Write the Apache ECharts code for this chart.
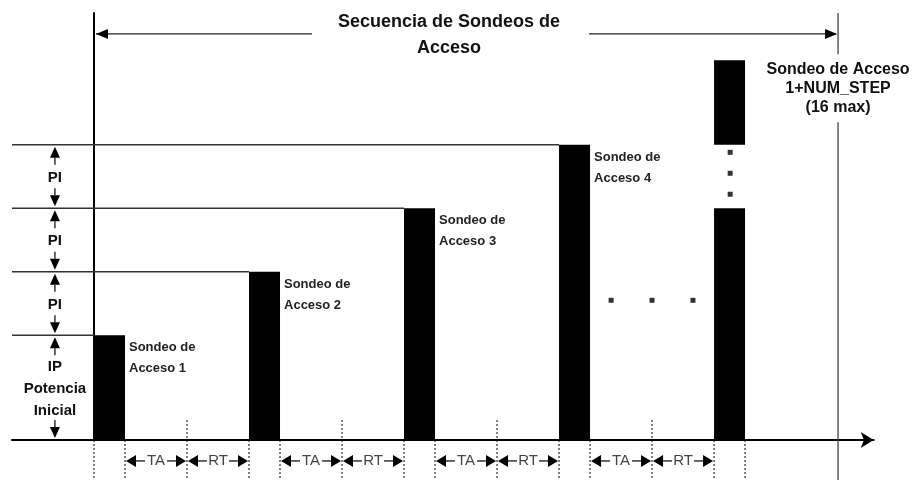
<!DOCTYPE html>
<html><head><meta charset="utf-8">
<script src="https://cdn.jsdelivr.net/npm/echarts@6/dist/echarts.min.js"></script>
<style>html,body{margin:0;padding:0;background:#fff}#c{width:916px;height:480px}</style>
</head><body><div id="c"></div>
<script>
// ---- data: time in slots (probe = 1 slot, TA = 2, RT = 2); power in PI steps ----
const probeStart = [0, 5, 10, 15, 20];
const probePower = [1.65, 2.65, 3.65, 4.65, 5.98];
const lastProbeBreak = [3.65, 4.65];
const probeDuration = 1;
const probeNames = ['Sondeo de\nAcceso 1', 'Sondeo de\nAcceso 2', 'Sondeo de\nAcceso 3', 'Sondeo de\nAcceso 4'];
const lastProbeName = ['Sondeo de Acceso', '1+NUM_STEP', '(16 max)'];
const stepBounds = [0, 1.65, 2.65, 3.65, 4.65];
const stepLabels = ['IP\nPotencia\nInicial', 'PI', 'PI', 'PI'];
const timingLabels = ['TA', 'RT'];
const timingDurations = [2, 2];
const sequenceEnd = 24;
const titleLines = ['Secuencia de Sondeos de', 'Acceso'];
const hEllipsisX = [16.68, 18.0, 19.32];
const hEllipsisY = [2.2, 2.2, 2.2];
const vEllipsisX = [20.52, 20.52, 20.52];
const vEllipsisY = [4.53, 4.2, 3.87];

// ---- axis extents / layout helpers ----
const X_MIN = -2.645, X_MAX = 25.15, Y_MIN = 0, Y_MAX = 6.724;
const ANN_X = -1.26;          // left step annotation column
const BOTTOM_Y = -0.63;       // bottom of dashed guides
const TIMING_Y = -0.33;       // TA/RT row
const MID_GUIDE_TOP = 0.315;  // top of the mid dashed guides
const SPAN_Y = 6.394;         // top sequence arrow row
const TITLE_GAP = [7.03, 15.97];
const TITLE_X = 11.45;

const FONT = "'Liberation Sans Narrow','Liberation Sans',Arial,sans-serif";

function tri(tx, ty, dir, len, half) {
  let pts;
  if (dir === 'left') pts = [[tx, ty], [tx + len, ty - half], [tx + len, ty + half]];
  else if (dir === 'right') pts = [[tx, ty], [tx - len, ty - half], [tx - len, ty + half]];
  else if (dir === 'up') pts = [[tx, ty], [tx - half, ty + len], [tx + half, ty + len]];
  else pts = [[tx, ty], [tx - half, ty - len], [tx + half, ty - len]];
  return { type: 'polygon', shape: { points: pts }, style: { fill: '#000' } };
}
function seg(x1, y1, x2, y2, stroke, w, dash) {
  return { type: 'line', shape: { x1, y1, x2, y2 }, style: { stroke, lineWidth: w, lineDash: dash || null } };
}
function txt(x, y, text, size, weight, fill, align, valign, lh) {
  return { type: 'text', style: { x, y, text, fill: fill || '#000', font: `${weight} ${size}px ${FONT}`, align: align || 'center', verticalAlign: valign || 'middle', textAlign: align || 'center', textVerticalAlign: valign || 'middle', lineHeight: lh || size + 4 } };
}

// bar segments
const barData = [];
probeStart.forEach((s, i) => {
  if (i === probeStart.length - 1) {
    barData.push([s, 0, lastProbeBreak[0]]);
    barData.push([s, lastProbeBreak[1], probePower[i]]);
  } else barData.push([s, 0, probePower[i]]);
});
// level lines
const levelData = probeStart.slice(0, 4).map((s, i) => [s, probePower[i], i]);
// step annotation
const stepData = stepLabels.map((l, i) => [ANN_X, stepBounds[i], stepBounds[i + 1], i]);
// dashed guides
const guideData = [];
probeStart.forEach((s, i) => {
  guideData.push([s, 0]);
  guideData.push([s + probeDuration, 0]);
  if (i < probeStart.length - 1) guideData.push([s + probeDuration + timingDurations[0], MID_GUIDE_TOP]);
});
// timing arrows
const timingData = [];
probeStart.slice(0, 4).forEach((s) => {
  let a = s + probeDuration;
  timingLabels.forEach((l, k) => {
    timingData.push([a, a + timingDurations[k], k]);
    a += timingDurations[k];
  });
});

const chart = echarts.init(document.getElementById('c'), null, { renderer: 'canvas' });
chart.setOption({
  animation: false,
  backgroundColor: '#fff',
  grid: { left: 12, right: 42.3, top: 13, bottom: 40 },
  xAxis: {
    type: 'value', min: X_MIN, max: X_MAX,
    axisLine: { show: true, onZero: true, lineStyle: { color: '#000', width: 2 }, symbol: ['none', 'arrow'], symbolSize: [12, 13] },
    axisTick: { show: false }, axisLabel: { show: false }, splitLine: { show: false }
  },
  yAxis: {
    type: 'value', min: Y_MIN, max: Y_MAX,
    axisLine: { show: true, onZero: true, lineStyle: { color: '#000', width: 2 } },
    axisTick: { show: false }, axisLabel: { show: false }, splitLine: { show: false }
  },
  series: [
    { // level lines
      type: 'custom', clip: false, data: levelData, z: 1,
      renderItem: (p, api) => {
        const a = api.coord([X_MIN, api.value(1)]), b = api.coord([api.value(0), api.value(1)]);
        return seg(a[0], a[1], b[0], b[1], '#333', 1.5);
      }
    },
    { // dashed guides
      type: 'custom', clip: false, data: guideData, z: 1,
      renderItem: (p, api) => {
        const a = api.coord([api.value(0), api.value(1)]), b = api.coord([api.value(0), BOTTOM_Y]);
        return seg(a[0], a[1], b[0], b[1], '#000', 1, [2, 2]);
      }
    },
    { // bars
      type: 'custom', clip: false, data: barData, z: 3,
      renderItem: (p, api) => {
        const s = api.value(0), lo = api.value(1), hi = api.value(2);
        const p0 = api.coord([s, hi]), p1 = api.coord([s + probeDuration, lo]);
        return { type: 'rect', shape: { x: p0[0], y: p0[1], width: p1[0] - p0[0], height: p1[1] - p0[1] }, style: { fill: '#000' } };
      }
    },
    { // bar labels
      type: 'custom', clip: false, data: levelData, z: 4,
      renderItem: (p, api) => {
        const c = api.coord([api.value(0) + probeDuration, api.value(1)]);
        return txt(c[0] + 4, c[1] + 2, probeNames[api.value(2)], 13, 'bold', '#222', 'left', 'top', 21);
      }
    },
    { // step annotations
      type: 'custom', clip: false, data: stepData, z: 4,
      renderItem: (p, api) => {
        const t = api.coord([api.value(0), api.value(2)]), b = api.coord([api.value(0), api.value(1)]);
        const x = t[0], yt = t[1], yb = b[1];
        return { type: 'group', children: [
          tri(x, yt + 2, 'up', 11, 5),
          seg(x, yt + 13, x, yt + 20, '#000', 1.2),
          seg(x, yb - 20, x, yb - 13, '#000', 1.2),
          tri(x, yb - 2, 'down', 11, 5),
          txt(x, (yt + yb) / 2 + 1, stepLabels[api.value(3)], 15, 'bold', '#111', 'center', 'middle', 22)
        ] };
      }
    },
    { // TA / RT arrows
      type: 'custom', clip: false, data: timingData, z: 4,
      renderItem: (p, api) => {
        const a = api.coord([api.value(0), TIMING_Y]), b = api.coord([api.value(1), TIMING_Y]);
        const y = a[1], mx = (a[0] + b[0]) / 2;
        return { type: 'group', children: [
          tri(a[0] + 1, y, 'left', 10, 6),
          tri(b[0] - 1, y, 'right', 10, 6),
          seg(a[0] + 10, y, mx - 11, y, '#000', 1.2),
          seg(mx + 11, y, b[0] - 10, y, '#000', 1.2),
          txt(mx, y, timingLabels[api.value(2)], 15, 'normal', '#444', 'center', 'middle')
        ] };
      }
    },
    { // sequence span, title, right boundary
      type: 'custom', clip: false, data: [[0, 0]], z: 4,
      renderItem: (p, api) => {
        const l = api.coord([0, SPAN_Y]), r = api.coord([sequenceEnd, SPAN_Y]);
        const g1 = api.coord([TITLE_GAP[0], SPAN_Y]), g2 = api.coord([TITLE_GAP[1], SPAN_Y]);
        const top = api.coord([sequenceEnd, Y_MAX]), bot = api.coord([sequenceEnd, BOTTOM_Y]);
        const lastTop = api.coord([sequenceEnd, probePower[4]]);
        const tc = api.coord([TITLE_X, SPAN_Y]);
        const y = l[1];
        return { type: 'group', children: [
          seg(l[0] + 2, y, g1[0], y, '#222', 1.3),
          seg(g2[0], y, r[0] - 2, y, '#222', 1.3),
          tri(l[0] + 2, y, 'left', 12, 5),
          tri(r[0] - 1, y, 'right', 12, 5),
          txt(tc[0], y - 12, titleLines[0], 18, 'bold', '#111'),
          txt(tc[0], y + 14, titleLines[1], 18, 'bold', '#111'),
          seg(top[0], top[1], top[0], lastTop[1] - 6, '#444', 1.3),
          seg(top[0], lastTop[1] + 62, bot[0], bot[1], '#444', 1.3),
          txt(top[0], lastTop[1] + 9, lastProbeName[0], 16, 'bold', '#111'),
          txt(top[0], lastTop[1] + 28, lastProbeName[1], 16, 'bold', '#111'),
          txt(top[0], lastTop[1] + 47, lastProbeName[2], 16, 'bold', '#111')
        ] };
      }
    },
    { // ellipsis dots
      type: 'scatter', symbol: 'rect', symbolSize: 5, itemStyle: { color: '#000' }, z: 5, silent: true,
      data: hEllipsisX.map((x, i) => [x, hEllipsisY[i]]).concat(vEllipsisX.map((x, i) => [x, vEllipsisY[i]]))
    }
  ]
});
</script>
</body></html>
